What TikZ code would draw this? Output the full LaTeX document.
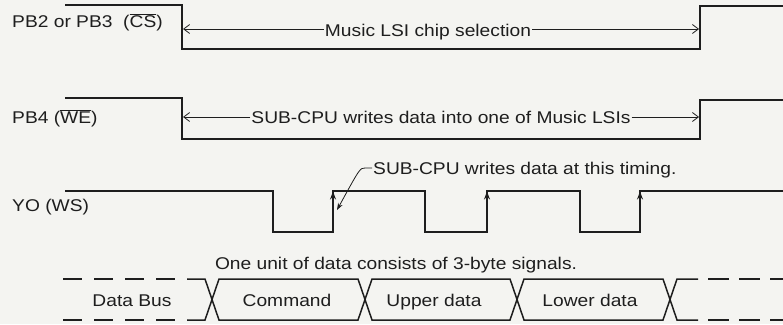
\documentclass[tikz,border=0pt]{standalone}
\usepackage{fontspec}
\setmainfont[FakeStretch=1.13]{Liberation Sans}
\usetikzlibrary{arrows.meta}
\definecolor{paper}{RGB}{244,244,241}
\definecolor{ink}{RGB}{30,30,30}
\begin{document}
\begin{tikzpicture}[x=1pt,y=-1pt,
  sig/.style={line width=1.5pt, draw=ink, line join=miter},
  ann/.style={line width=0.8pt, draw=ink},
  lbl/.style={font=\fontsize{17}{19}\selectfont, text=ink, inner sep=1pt},
  barb/.style={-{Straight Barb[length=6pt,width=9pt]}},
  uptip/.style={line width=1.2pt, draw=ink, -{Stealth[length=8pt,width=6pt]}}]
\fill[paper] (0,0) rectangle (783,324);
\useasboundingbox (0,0) rectangle (783,324);

% ---- CS line
\node[lbl, anchor=base west] (cslbl) at (11,27) {PB2 or PB3\ \ (\(\overline{\hbox{CS}}\))};
\draw[sig] (65,5) -- (182,5) -- (182,49) -- (700,49) -- (700,6) -- (783,6);
\coordinate (csfall) at (183,29);
\coordinate (csrise) at (699,29);
\node[lbl, anchor=base] (cstext) at (428,36) {Music LSI chip selection};
\draw[ann,barb] (cstext.west |- csfall) -- (csfall);
\draw[ann,barb] (cstext.east |- csrise) -- (csrise);

% ---- WE line
\node[lbl, anchor=base west] (welbl) at (11,123) {PB4 (\(\overline{\hbox{WE}}\))};
\draw[sig] (65,98) -- (182,98) -- (182,139) -- (700,139) -- (700,100) -- (783,100);
\coordinate (wefall) at (183,117);
\coordinate (werise) at (699,117);
\node[lbl, anchor=base] (wetext) at (441,123) {SUB-CPU writes data into one of Music LSIs};
\draw[ann,barb] (wetext.west |- wefall) -- (wefall);
\draw[ann,barb] (wetext.east |- werise) -- (werise);

% ---- WS line
\node[lbl, anchor=base west] (wslbl) at (11,211) {YO (WS)};
\draw[sig] (65,191) -- (273,191) -- (273,232) -- (333,232) -- (333,191) -- (425,191)
  -- (425,232) -- (487,232) -- (487,191) -- (580,191) -- (580,232) -- (640,232)
  -- (640,191) -- (783,191);
\coordinate (r1) at (333,191.5);
\coordinate (r2) at (487,191.5);
\coordinate (r3) at (640,191.5);
\draw[uptip] (333,205) -- (r1);
\draw[uptip] (487,205) -- (r2);
\draw[uptip] (640,205) -- (r3);
\node[lbl, anchor=base west] (timtext) at (372,174) {SUB-CPU writes data at this timing.};
\coordinate (lead) at (337,210);
\draw[ann, -{Stealth[length=7pt,width=5pt]}] (timtext.west |- 0,168) -- (365,168)
  .. controls (360,168) .. (lead);

% ---- Data bus
\node[lbl, anchor=base] (unit) at (396,269) {One unit of data consists of 3-byte signals.};
\draw[sig, dash pattern=on 19pt off 12pt] (63,279) -- (187,279);
\draw[sig, dash pattern=on 19pt off 12pt] (63,320) -- (187,320);
\draw[sig] (187,279) -- (205,279) -- (219,320) -- (358,320) -- (372,279) -- (510,279)
  -- (524,320) -- (663,320) -- (677,279) -- (698,279);
\draw[sig] (187,320) -- (205,320) -- (219,279) -- (358,279) -- (372,320) -- (510,320)
  -- (524,279) -- (663,279) -- (677,320) -- (698,320);
\draw[sig, dash pattern=on 21pt off 10pt] (708,279) -- (783,279);
\draw[sig, dash pattern=on 21pt off 10pt] (708,320) -- (783,320);
\node[lbl, anchor=base] (bus) at (132,306) {Data Bus};
\node[lbl, anchor=base] (cmd) at (287,306) {Command};
\node[lbl, anchor=base] (upper) at (434,306) {Upper data};
\node[lbl, anchor=base] (lower) at (590,306) {Lower data};
\end{tikzpicture}
\end{document}
